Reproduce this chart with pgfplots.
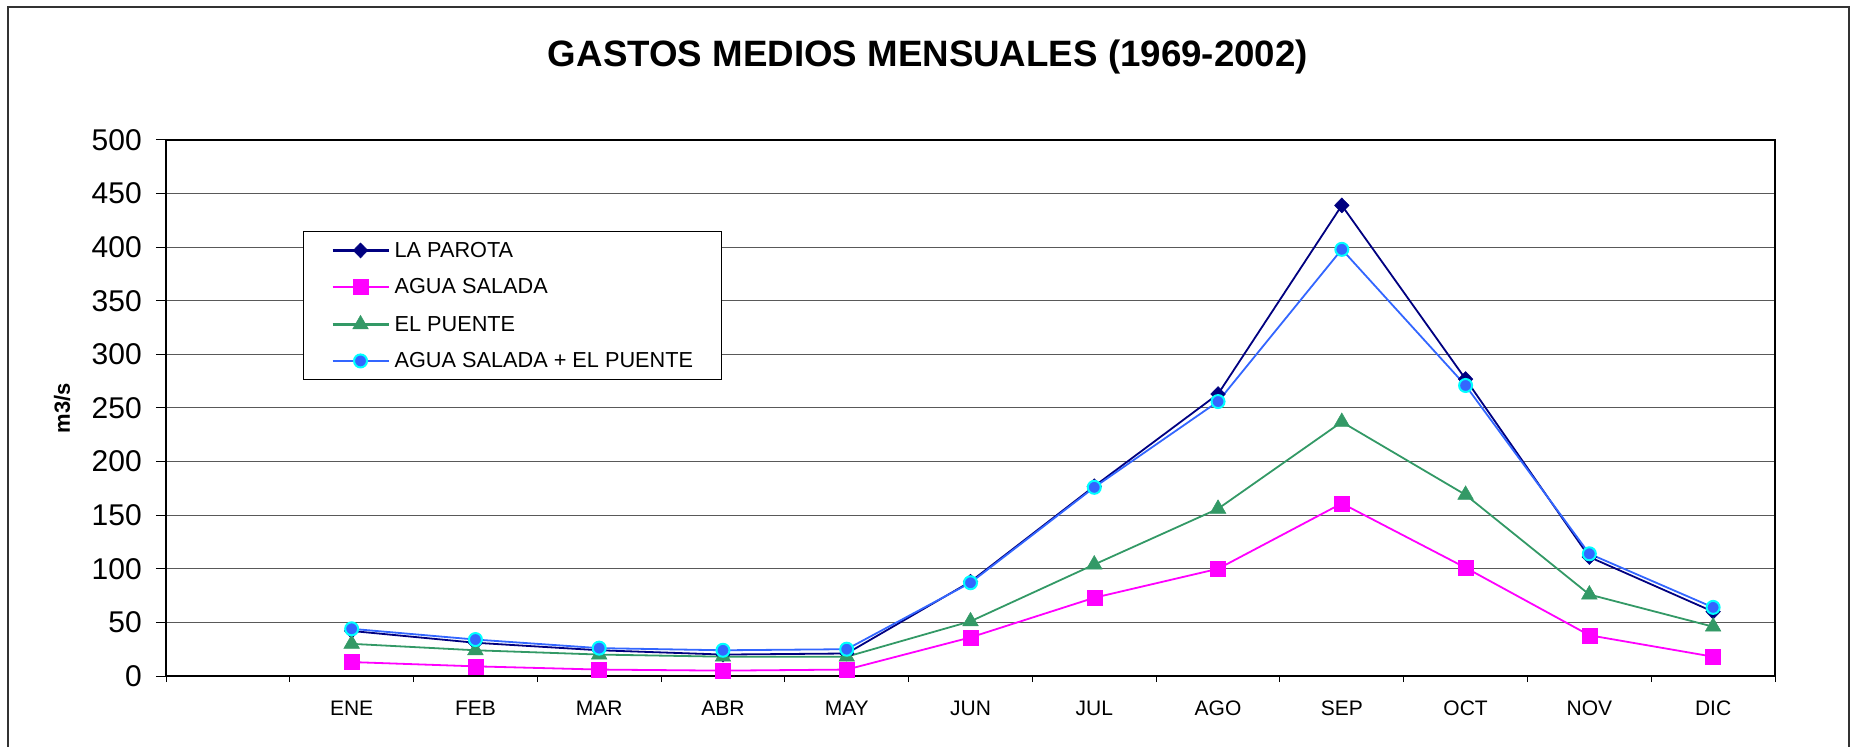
\documentclass[border=0pt]{standalone}
\usepackage{fontspec}
\setmainfont{Liberation Sans}
\usepackage{pgfplots}
\pgfplotsset{compat=1.18}
\definecolor{parota}{RGB}{0,0,128}
\definecolor{salada}{RGB}{255,0,255}
\definecolor{puente}{RGB}{51,153,102}
\definecolor{suma}{RGB}{51,102,255}
\definecolor{sumaedge}{RGB}{0,255,255}
\begin{document}
\begin{tikzpicture}
\path[use as bounding box] (0,0) rectangle (1856bp,747bp);
\draw[black!80, line width=1.5bp] (8bp,-20bp) -- (8bp,740bp) -- (1849bp,740bp) -- (1849bp,-20bp);
\node[anchor=base, font=\fontsize{36.7bp}{44bp}\selectfont\bfseries] at (928bp,680.3bp) {GASTOS MEDIOS MENSUALES (1969-2002)};
\begin{axis}[
  at={(166bp,71bp)}, anchor=south west,
  scale only axis, width=1609bp, height=536bp,
  xmin=-0.5, xmax=12.5, ymin=0, ymax=500,
  axis line style={line width=2bp, black},
  tick pos=left, tick align=outside,
  major tick length=10bp,
  xtick={-0.5,0.5,...,12.5}, xticklabels={},
  xtick style={/pgfplots/major tick length=6bp, line width=1bp, black},
  ytick={0,50,...,500},
  ytick style={line width=1bp, black},
  extra x ticks={1,2,3,4,5,6,7,8,9,10,11,12},
  extra x tick labels={ENE,FEB,MAR,ABR,MAY,JUN,JUL,AGO,SEP,OCT,NOV,DIC},
  extra x tick style={tick style={draw=none}, grid=none},
  xticklabel style={font=\fontsize{21bp}{25bp}\selectfont, anchor=base, yshift=-29.5bp},
  yticklabel style={font=\fontsize{30bp}{36bp}\selectfont, inner sep=0pt, anchor=east, xshift=-14bp},
  /pgf/number format/assume math mode=true,
  ymajorgrids,
  major grid style={black!65, line width=1bp},
  ylabel={m3/s},
  ylabel style={font=\fontsize{22bp}{26bp}\selectfont\bfseries, at={(axis description cs:-0.0597,0.5)}, anchor=base},
  legend cell align=left,
  legend image code/.code={\draw[#1, line width=2.2bp, mark repeat=2, mark phase=2] plot coordinates {(0bp,0bp) (28bp,0bp) (56bp,0bp)};},
  legend style={at={(axis description cs:0.0851,0.830)}, anchor=north west,
    draw=black, line width=1bp, fill=white,
    font=\fontsize{21.7bp}{26bp}\selectfont,
    inner xsep=28bp, inner ysep=10.5bp, row sep=20bp,
    nodes={inner sep=0pt},
    /tikz/every odd column/.append style={column sep=5bp}},
]
\addplot[parota, line width=1.8bp, mark=diamond*, mark size=7.5bp, mark options={xscale=1.3, solid, fill=parota, line width=0.5bp}]
coordinates {(1,42) (2,31) (3,24) (4,20) (5,21) (6,88) (7,177) (8,263) (9,439) (10,277) (11,111) (12,60)};
\addlegendentry{LA PAROTA}
\addplot[salada, line width=1.8bp, mark=square*, mark size=7.5bp, mark options={solid, fill=salada, line width=0.5bp}]
coordinates {(1,13) (2,9) (3,6) (4,5) (5,6) (6,36) (7,73) (8,100) (9,161) (10,101) (11,38) (12,18)};
\addlegendentry{AGUA SALADA}
\addplot[puente, line width=1.8bp, mark=triangle*, mark size=9bp, mark options={solid, fill=puente, line width=0.5bp}]
coordinates {(1,30) (2,24) (3,20) (4,18) (5,18) (6,51) (7,104) (8,156) (9,237) (10,169) (11,76) (12,46)};
\addlegendentry{EL PUENTE}
\addplot[suma, line width=1.8bp, mark=*, mark size=6.5bp, mark options={solid, fill=suma, draw=sumaedge, line width=2bp}]
coordinates {(1,44) (2,34) (3,26) (4,24) (5,25) (6,87) (7,176) (8,256) (9,398) (10,271) (11,114) (12,64)};
\addlegendentry{AGUA SALADA + EL PUENTE}
\end{axis}
\end{tikzpicture}
\end{document}
